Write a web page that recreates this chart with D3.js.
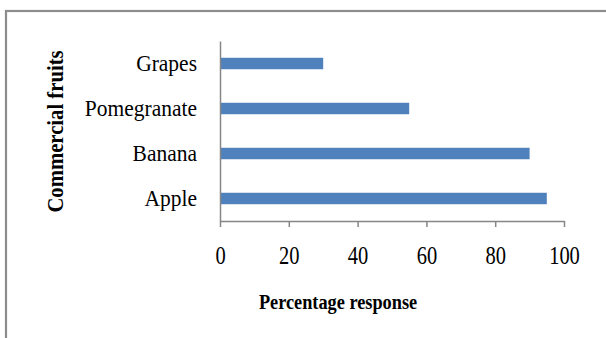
<!DOCTYPE html>
<html><head><meta charset="utf-8">
<script src="https://cdn.jsdelivr.net/npm/d3@7"></script>
<style>body{margin:0;background:#fff}svg{display:block}</style>
</head><body>
<script>
const categories = ["Apple", "Banana", "Pomegranate", "Grapes"];
const values = [95, 90, 55, 30];
const xTicks = [0, 20, 40, 60, 80, 100];
const xTitle = "Percentage response";
const yTitle = "Commercial fruits";

(function () {
const W = 606, H = 338;
const svg = d3.select("body").append("svg").attr("width", W).attr("height", H);
const font = "'Liberation Serif','Times New Roman',serif";

// outer frame
svg.append("rect").attr("x", 6).attr("y", 11).attr("width", 640).attr("height", 400)
  .attr("fill", "none").attr("stroke", "#8c8c8c").attr("stroke-width", 2.2);

const mLeft = 220, mRight = 564, mTop = 41, mBottom = 221;
const x = d3.scaleLinear().domain([0, 100]).range([mLeft, mRight]);
const y = d3.scaleBand().domain(categories.slice().reverse()).range([mTop, mBottom]).paddingInner(0.745).paddingOuter(0.3725);

svg.selectAll("rect.bar").data(categories).enter().append("rect")
  .attr("class", "bar")
  .attr("x", x(0))
  .attr("y", d => y(d))
  .attr("width", (d, i) => x(values[i]) - x(0))
  .attr("height", y.bandwidth())
  .attr("fill", "#4F81BD");

const gx = svg.append("g").attr("transform", `translate(0,${mBottom})`)
  .call(d3.axisBottom(x).tickValues(xTicks).tickSize(6).tickSizeOuter(0));
gx.select(".domain").attr("stroke", "#868686").attr("stroke-width", 1.5);
gx.selectAll(".tick line").attr("stroke", "#868686").attr("stroke-width", 1.5);
gx.selectAll("text").attr("font-family", font).attr("font-size", 20.5).attr("fill", "#000")
  .attr("y", 43).attr("dy", 0)
  .attr("transform", "translate(0,43) scale(1,1.2) translate(0,-43)");

const gy = svg.append("g").attr("transform", `translate(${mLeft},0)`)
  .call(d3.axisLeft(y).tickSize(0).tickPadding(23));
gy.select(".domain").attr("stroke", "#868686").attr("stroke-width", 1.5);
gy.selectAll("text").attr("font-family", font).attr("font-size", 21.5).attr("fill", "#000")
  .attr("transform", "scale(1,1.08)");

svg.append("text").attr("transform", "translate(338,309) scale(1,1.16)").attr("text-anchor", "middle")
  .attr("font-family", font).attr("font-weight", "bold").attr("font-size", 18.3).text(xTitle);
svg.append("text").attr("transform", "translate(62.5,131.5) scale(1.14,1) rotate(-90)").attr("text-anchor", "middle")
  .attr("font-family", font).attr("font-weight", "bold").attr("font-size", 20.7).text(yTitle);
})();
</script>
</body></html>
